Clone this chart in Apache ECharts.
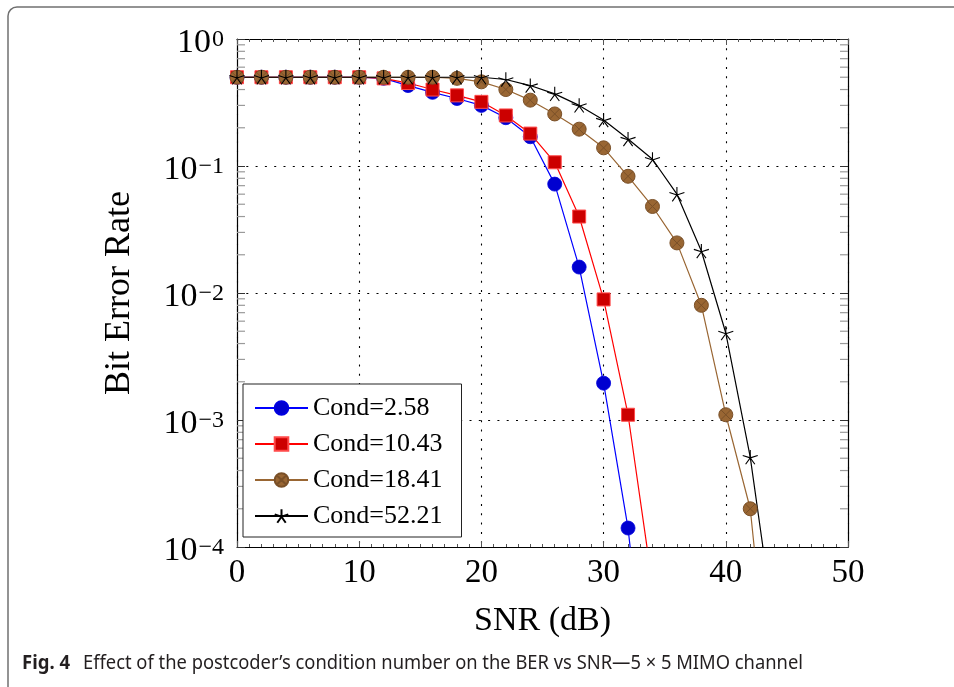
<!DOCTYPE html>
<html><head><meta charset="utf-8">
<script src="https://cdn.jsdelivr.net/npm/echarts/dist/echarts.min.js"></script>
<style>html,body{margin:0;padding:0;background:#fff}#c{width:954px;height:687px}</style>
</head><body><div id="c"></div>
<script>
// ---- data ----
const snr = [0,2,4,6,8,10,12,14,16,18,20,22,24,26,28,30,32,34,36,38,40,42,44];
const cond258 = [0.5,0.5,0.5,0.5,0.5,0.5,0.49,0.43,0.38,0.34,0.30,0.24,0.17,0.072,0.016,0.00195,0.000141,0.0000025];
const cond1043 = [0.5,0.5,0.5,0.5,0.5,0.5,0.49,0.45,0.40,0.36,0.32,0.25,0.18,0.107,0.040,0.0089,0.0011,0.00005];
const cond1841 = [0.5,0.5,0.5,0.5,0.5,0.5,0.5,0.5,0.5,0.49,0.46,0.40,0.33,0.257,0.195,0.139,0.083,0.048,0.0248,0.0080,0.0011,0.0002,0.0000027];
const cond5221 = [0.5,0.5,0.5,0.5,0.5,0.5,0.5,0.5,0.5,0.5,0.5,0.48,0.43,0.37,0.30,0.23,0.163,0.113,0.060,0.0214,0.00484,0.00051,0.000022];
const seriesNames = ['Cond=2.58','Cond=10.43','Cond=18.41','Cond=52.21'];
const xTicks = [0,10,20,30,40,50];
const yTickExp = [-4,-3,-2,-1,0];
const logMinorMultipliers = [2,3,4,5,6,7,8,9];
const xLabel = 'SNR (dB)';
const yLabel = 'Bit Error Rate';
const captionBold = 'Fig. 4';
const captionRest = 'Effect of the postcoder\u2019s condition number on the BER vs SNR\u20145 \u00d7 5 MIMO channel';

// ---- helpers ----
const pair = arr => arr.map((v, i) => [snr[i], v]);
const serif = '"Liberation Serif", "Times New Roman", serif';
const minorVals = [];
for (let e = yTickExp[0]; e < yTickExp[yTickExp.length - 1]; e++) {
  logMinorMultipliers.forEach(m => minorVals.push([0, m * Math.pow(10, e)]));
}
function supFmt(v) {
  const e = Math.round(Math.log10(v));
  return '{b|10}{s|' + (e < 0 ? '\u2212' + (-e) : String(e)) + '}';
}
function measure(text, font) {
  const c = document.createElement('canvas').getContext('2d');
  c.font = font; return c.measureText(text).width;
}
const capFontB = 'bold 19px "Noto Sans"';
const capFontR = '19px "Noto Sans"';
const sxB = 48 / measure(captionBold, capFontB);
const sxR = 720 / measure(captionRest, capFontR);

const starPath = 'path://M10 10 L10 0 M10 10 L19.51 6.91 M10 10 L15.88 18.09 M10 10 L4.12 18.09 M10 10 L0.49 6.91';
const otimesPath = 'path://M20 10 A10 10 0 1 1 0 10 A10 10 0 1 1 20 10 Z M2.93 2.93 L17.07 17.07 M17.07 2.93 L2.93 17.07';

const chart = echarts.init(document.getElementById('c'), null, {renderer: 'canvas'});
const gridLine = {show: true, lineStyle: {color: '#000', width: 1.1, type: [2, 7.3]}};
chart.setOption({
  animation: false,
  backgroundColor: '#fff',
  grid: {left: 237, top: 39, width: 611, height: 508, containLabel: false},
  legend: {
    data: seriesNames, orient: 'vertical', left: 243, top: 384,
    backgroundColor: '#fff', borderColor: '#222', borderWidth: 1,
    padding: [11, 19, 8, 11], itemWidth: 53, itemHeight: 17, itemGap: 10,
    textStyle: {fontFamily: serif, fontSize: 26, color: '#000', lineHeight: 24}
  },
  xAxis: [{
    type: 'value', min: 0, max: 50, interval: 10, position: 'bottom',
    name: xLabel, nameLocation: 'middle', nameGap: 57,
    nameTextStyle: {fontFamily: serif, fontSize: 34, color: '#000'},
    axisLine: {show: true, onZero: false, lineStyle: {color: '#000', width: 1.2}},
    axisTick: {show: true, inside: true, length: 6, lineStyle: {color: '#555'}},
    minorTick: {show: true, splitNumber: 10, length: 3, lineStyle: {color: '#555'}},
    axisLabel: {fontFamily: serif, fontSize: 33, color: '#000', margin: 10},
    splitLine: gridLine
  }, {
    type: 'value', min: 0, max: 50, interval: 10, position: 'top',
    axisLine: {show: true, onZero: false, lineStyle: {color: '#000', width: 1.2}},
    axisTick: {show: true, inside: true, length: 6, lineStyle: {color: '#555'}},
    minorTick: {show: true, splitNumber: 10, length: 3, lineStyle: {color: '#555'}},
    axisLabel: {show: false}, splitLine: {show: false}
  }],
  yAxis: [{
    type: 'log', logBase: 10, min: 1e-4, max: 1, interval: 1, position: 'left',
    name: yLabel, nameLocation: 'middle', nameGap: 99,
    nameTextStyle: {fontFamily: serif, fontSize: 36, color: '#000'},
    axisLine: {show: true, onZero: false, lineStyle: {color: '#000', width: 1.2}},
    axisTick: {show: true, inside: true, length: 8, lineStyle: {color: '#333'}},
    axisLabel: {
      margin: 13, formatter: supFmt,
      rich: {
        b: {fontFamily: serif, fontSize: 34, color: '#000', lineHeight: 34, padding: [8, 1, 0, 0]},
        s: {fontFamily: serif, fontSize: 24, color: '#000', verticalAlign: 'top', lineHeight: 24, padding: [6, 0, 0, 0]}
      }
    },
    splitLine: gridLine
  }, {
    type: 'log', logBase: 10, min: 1e-4, max: 1, interval: 1, position: 'right',
    axisLine: {show: true, onZero: false, lineStyle: {color: '#000', width: 1.2}},
    axisTick: {show: true, inside: true, length: 8, lineStyle: {color: '#333'}},
    axisLabel: {show: false}, splitLine: {show: false}
  }],
  series: [
    {name: seriesNames[0], type: 'line', data: pair(cond258), symbol: 'circle', symbolSize: 14,
     lineStyle: {color: '#0000ff', width: 1.2}, itemStyle: {color: '#0000d0', borderColor: '#0000e0', borderWidth: 0.8}},
    {name: seriesNames[1], type: 'line', data: pair(cond1043), symbol: 'rect', symbolSize: 13,
     lineStyle: {color: '#ff0000', width: 1.2}, itemStyle: {color: '#cc0000', borderColor: '#ff4a4a', borderWidth: 1}},
    {name: seriesNames[2], type: 'line', data: pair(cond1841), symbol: otimesPath, symbolSize: 14, symbolKeepAspect: true,
     lineStyle: {color: '#996633', width: 1.2}, itemStyle: {color: '#996633', borderColor: '#7a5028', borderWidth: 1}},
    {name: seriesNames[3], type: 'line', data: pair(cond5221), symbol: starPath, symbolSize: 15, symbolKeepAspect: true,
     lineStyle: {color: '#000', width: 1.2}, itemStyle: {color: '#000', borderColor: '#000', borderWidth: 1.1}},
    {name: 'minorTicks', type: 'custom', silent: true, data: minorVals, z: 1,
     renderItem: function (params, api) {
       const y = api.coord([0, api.value(1)])[1];
       const cs = params.coordSys;
       const st = {stroke: '#9a9a9a', lineWidth: 1.2};
       return {type: 'group', children: [
         {type: 'line', shape: {x1: cs.x, y1: y, x2: cs.x + 8, y2: y}, style: st},
         {type: 'line', shape: {x1: cs.x + cs.width - 8, y1: y, x2: cs.x + cs.width, y2: y}, style: st}
       ]};
     }}
  ],
  graphic: [
    {type: 'rect', silent: true, z: -10, shape: {x: 8, y: 7, width: 1000, height: 1000, r: 9},
     style: {fill: 'none', stroke: '#707070', lineWidth: 1.5}},
    {type: 'text', x: 22, y: 664, scaleX: sxB, silent: true,
     style: {text: captionBold, font: capFontB, fill: '#231f20', textVerticalAlign: 'middle'}},
    {type: 'text', x: 83, y: 664, scaleX: sxR, silent: true,
     style: {text: captionRest, font: capFontR, fill: '#231f20', textVerticalAlign: 'middle'}}
  ]
});
</script></body></html>
